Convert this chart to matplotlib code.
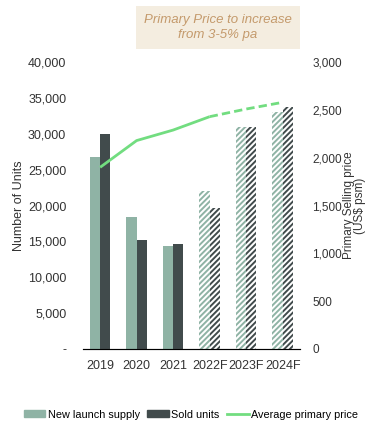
import matplotlib.pyplot as plt
import numpy as np
from matplotlib.patches import Patch
from matplotlib.lines import Line2D

plt.rcParams['font.family'] = ['Liberation Sans', 'DejaVu Sans']

years = ["2019", "2020", "2021", "2022F", "2023F", "2024F"]
launch = [26800, 18400, 14400, 22100, 30900, 33000]
sold = [30000, 15200, 14700, 19600, 30900, 33700]
price = [1900, 2180, 2290, 2430, 2510, 2580]
forecast = [False, False, False, True, True, True]

light = "#8fb3a5"
dark = "#414b4c"
green = "#72dd80"

fig = plt.figure(figsize=(3.67, 4.23), dpi=100)
ax = fig.add_axes([0.226, 0.175, 0.591, 0.678])
ax2 = ax.twinx()

x = np.arange(len(years))
w = 0.28
plt.rcParams['hatch.linewidth'] = 1.4
for i in range(len(years)):
    if forecast[i]:
        ax.bar(x[i] - w/2, launch[i], w, facecolor="white", edgecolor=light, hatch="//////", linewidth=0)
        ax.bar(x[i] + w/2, sold[i], w, facecolor="white", edgecolor=dark, hatch="//////", linewidth=0)
    else:
        ax.bar(x[i] - w/2, launch[i], w, color=light)
        ax.bar(x[i] + w/2, sold[i], w, color=dark)

ax2.plot(x[:4], price[:4], color=green, lw=2, solid_capstyle="butt")
ax2.plot(x[3:], price[3:], color=green, lw=2, ls=(0, (3, 1.5)))

ax.set_xlim(-0.47, 5.47)
ax.set_ylim(0, 40000)
ax2.set_ylim(0, 3000)
ax.set_xticks(x)
ax.set_xticklabels(years, fontsize=9)
yt = np.arange(0, 40001, 5000)
ax.set_yticks(yt)
ax.set_yticklabels(["-"] + [f"{v:,}" for v in yt[1:]], fontsize=9)
yt2 = np.arange(0, 3001, 500)
ax2.set_yticks(yt2)
ax2.set_yticklabels([f"{v:,}" for v in yt2], fontsize=8.5)

for a in (ax, ax2):
    for s in ["top", "left", "right"]:
        a.spines[s].set_visible(False)
    a.tick_params(length=0, colors="#333333")
ax.spines["bottom"].set_color("#555555")
ax.tick_params(axis="x", pad=8)
ax.tick_params(axis="y", pad=12)
ax2.tick_params(axis="y", pad=9)

ax.set_ylabel("Number of Units", fontsize=9, color="#333333", labelpad=2)
ax2.set_ylabel("Primary Selling price\n(US$ psm)", fontsize=8.5, color="#333333", labelpad=1, linespacing=0.85)

fig.text(0.594, 0.935, "Primary Price to increase\nfrom 3-5% pa", ha="center", va="center",
         fontsize=9.5, style="italic", color="#c49a6c", linespacing=1.3,
         bbox=dict(boxstyle="square,pad=0.6", fc="#f4ede0", ec="none"))

handles = [Patch(color=light, label="New launch supply"),
           Patch(color=dark, label="Sold units"),
           Line2D([0], [0], color=green, lw=2, label="Average primary price")]
fig.legend(handles=handles, loc="center", bbox_to_anchor=(0.52, 0.02), ncol=3, frameon=False,
           fontsize=7.8, handlelength=2.0, handleheight=0.6, handletextpad=0.2, columnspacing=0.7)

fig.savefig("out.png", dpi=100)
